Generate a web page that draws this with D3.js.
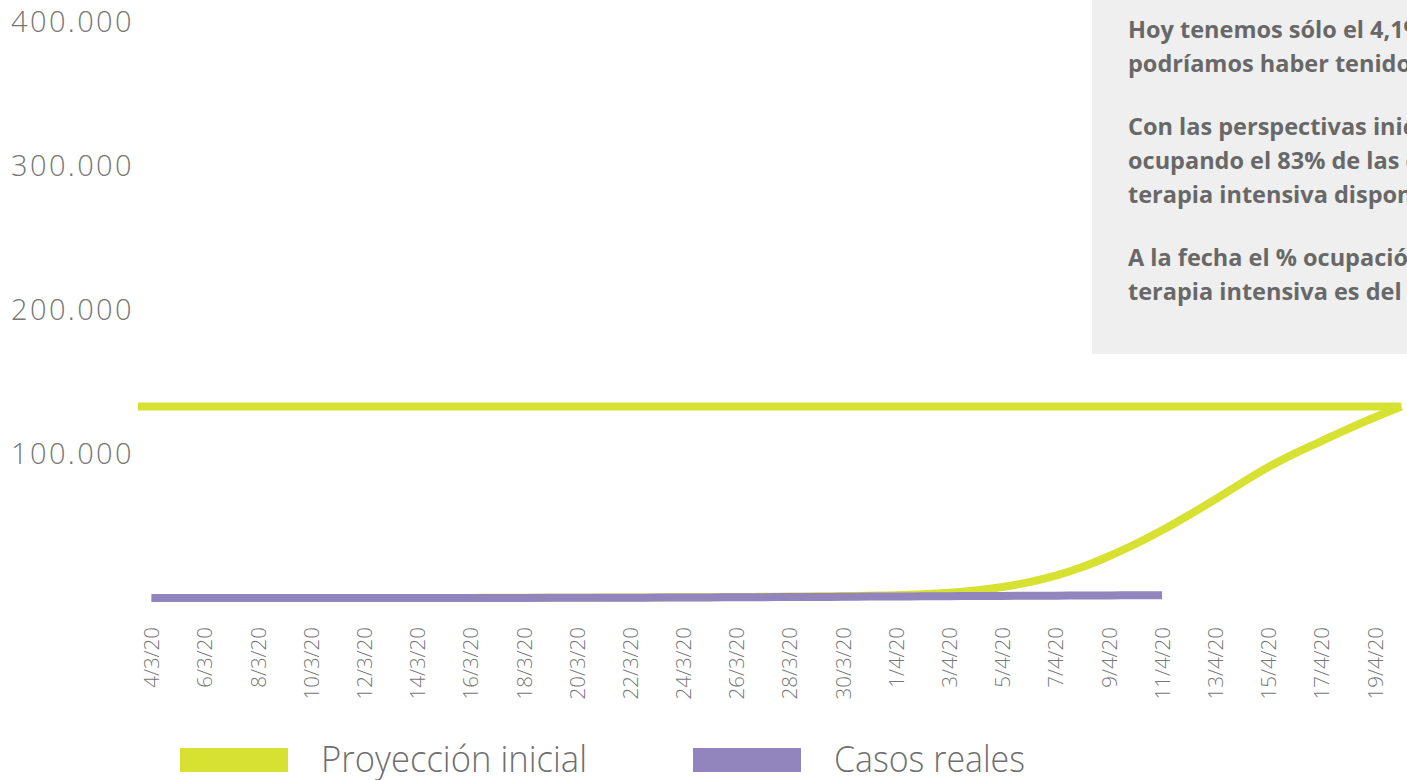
<!DOCTYPE html>
<html lang="es">
<head>
  <meta charset="UTF-8" />
  <title>Proyección inicial vs casos reales</title>
  <script src="https://d3js.org/d3.v7.min.js"></script>
  <style>
    body { margin: 0; background: #fff; overflow: hidden; }
    svg { display: block; font-family: 'Open Sans', sans-serif; }
    .tick-y { font-size: 29px; font-weight: 300; fill: #777; letter-spacing: 2.4px; }
    .tick-x text { font-family: 'Open Sans', sans-serif; font-size: 20.5px; font-weight: 300; fill: #777; }
    .nota { font-size: 23.5px; font-weight: 700; fill: #686868; }
    .leyenda { font-size: 37px; font-weight: 300; fill: #6f6f6f; }
  </style>
</head>
<body>
<div id="chart"></div>
<script>
// --- datos ---
const fechaInicio = "4/3/20";
// proyección inicial, un valor por día desde 4/3/20 hasta 20/4/20
const proyeccion = [
  1, 2, 3, 5, 7, 10, 14, 19, 26, 35,
  47, 62, 81, 105, 135, 172, 217, 270, 333, 407,
  493, 592, 706, 836, 985, 1150, 1350, 1600, 1900, 2600,
  3600, 5200, 7600, 11000, 15500, 21500, 29000, 37500, 47000, 57500,
  68500, 80000, 91000, 100500, 109000, 117500, 125500, 133000
];
// casos reales confirmados, desde 4/3/20 hasta 11/4/20
const casosReales = [
  1, 2, 2, 8, 12, 12, 17, 19, 21, 31,
  34, 45, 56, 65, 79, 97, 128, 158, 225, 266,
  301, 387, 502, 589, 690, 745, 820, 966, 1054, 1133,
  1265, 1353, 1451, 1554, 1628, 1715, 1795, 1894, 1975
];
// techo de la proyección (línea horizontal)
const techo = 133000;
const ticksY = [100000, 200000, 300000, 400000];
const ticksX = ["4/3/20", "6/3/20", "8/3/20", "10/3/20", "12/3/20", "14/3/20", "16/3/20",
  "18/3/20", "20/3/20", "22/3/20", "24/3/20", "26/3/20", "28/3/20", "30/3/20", "1/4/20",
  "3/4/20", "5/4/20", "7/4/20", "9/4/20", "11/4/20", "13/4/20", "15/4/20", "17/4/20", "19/4/20"];
const series = ["Proyección inicial", "Casos reales"];
const colores = ["#d7e132", "#9284bd"];
const notas = [
  ["Hoy tenemos sólo el 4,1% de los casos que", "podríamos haber tenido."],
  ["Con las perspectivas iniciales estaríamos", "ocupando el 83% de las camas de", "terapia intensiva disponibles."],
  ["A la fecha el % ocupación de camas de", "terapia intensiva es del 3%."]
];

// --- dimensiones ---
const W = 1407, H = 780;
const parse = d3.utcParse("%d/%m/%y");
const fmt = d3.utcFormat("%-d/%-m/%y");
const dia = 864e5;
const t0 = parse(fechaInicio);

const svg = d3.select("#chart").append("svg")
  .attr("width", W).attr("height", H);

// --- escalas ---
const x = d3.scaleUtc()
  .domain([new Date(+t0 - 0.583 * dia), new Date(+t0 + 48 * dia)])
  .range([136, 1428]);
const y = d3.scaleLinear().domain([0, 400000]).range([598, 22]);

const proyData = proyeccion.map((v, i) => ({ fecha: new Date(+t0 + i * dia), valor: v }));
const realData = casosReales.map((v, i) => ({ fecha: new Date(+t0 + i * dia), valor: v }));

// --- cuadro de notas ---
const nota = svg.append("g");
nota.append("rect")
  .attr("x", 1092).attr("y", 0)
  .attr("width", 400).attr("height", 354)
  .attr("fill", "#efefef");
let base = 38;
notas.forEach((parrafo) => {
  parrafo.forEach((linea, i) => {
    nota.append("text").attr("class", "nota")
      .attr("x", 1128).attr("y", base + i * 34)
      .text(linea);
  });
  base += parrafo.length * 34 + 29;
});

// --- eje Y (solo etiquetas) ---
svg.append("g").selectAll("text")
  .data(ticksY)
  .join("text")
  .attr("class", "tick-y")
  .attr("x", 11)
  .attr("y", d => y(d))
  .attr("dy", "0.35em")
  .text(d => d3.format(",")(d).replace(/,/g, "."));

// --- eje X ---
const ejeX = svg.append("g")
  .attr("class", "tick-x")
  .attr("transform", `translate(0,600)`)
  .call(d3.axisBottom(x).tickValues(ticksX.map(parse)).tickFormat(fmt).tickSize(0));
ejeX.select(".domain").remove();
ejeX.selectAll("text")
  .attr("transform", "rotate(-90)")
  .attr("text-anchor", "end")
  .attr("x", -27)
  .attr("y", 0)
  .attr("dy", "0.35em");

// --- líneas ---
const linea = d3.line()
  .x(d => x(d.fecha))
  .y(d => y(d.valor))
  .curve(d3.curveMonotoneX);

// techo horizontal de la proyección
svg.append("line")
  .attr("x1", x.range()[0] + 2)
  .attr("x2", x(proyData[proyData.length - 1].fecha))
  .attr("y1", y(techo)).attr("y2", y(techo))
  .attr("stroke", colores[0]).attr("stroke-width", 8);

svg.append("path")
  .datum(proyData)
  .attr("fill", "none")
  .attr("stroke", colores[0])
  .attr("stroke-width", 8)
  .attr("d", linea);

svg.append("path")
  .datum(realData)
  .attr("fill", "none")
  .attr("stroke", colores[1])
  .attr("stroke-width", 8)
  .attr("d", linea);

// --- leyenda ---
const leyX = [180, 693];
const leyAncho = [266, 191];
series.forEach((s, i) => {
  const g = svg.append("g").attr("transform", `translate(${leyX[i]},748)`);
  g.append("rect").attr("width", 108).attr("height", 24).attr("fill", colores[i]);
  g.append("text").attr("class", "leyenda")
    .attr("x", 141).attr("y", 24)
    .attr("textLength", leyAncho[i])
    .attr("lengthAdjust", "spacingAndGlyphs")
    .text(s);
});
</script>
</body>
</html>
